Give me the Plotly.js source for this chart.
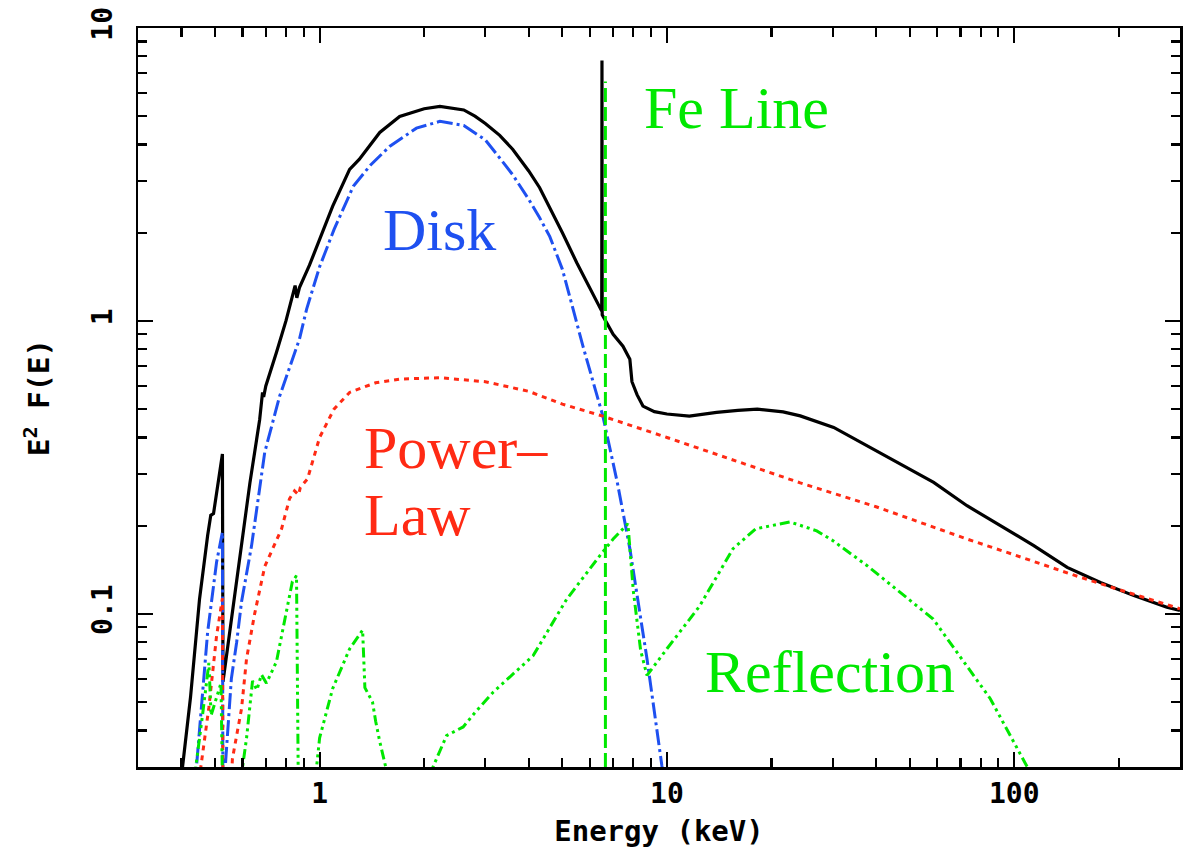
<!DOCTYPE html>
<html><head><meta charset="utf-8">
<script src="https://cdn.plot.ly/plotly-3.0.1.min.js"></script>
<style>html,body{margin:0;padding:0;background:#fff}#chart{width:1191px;height:850px}</style>
</head><body><div id="chart"></div>
<script>
// ---- data (energy in keV, E^2 F(E)) ----
const totalE = [0.395,0.403,0.425,0.451,0.476,0.486,0.495,0.508,0.525,0.527,0.55,0.569,0.596,0.63,0.672,0.685,0.69,0.70,0.751,0.80,0.84,0.85,0.86,0.875,0.935,1.0,1.09,1.22,1.30,1.49,1.70,2.0,2.22,2.6,2.8,3.0,3.3,3.6,4.0,4.3,4.6,5.0,5.5,6.0,6.49,6.50,6.51,7.0,7.47,7.82,7.93,8.2,8.53,9.2,10,11.6,13.9,16,18.2,21.6,24.2,30.2,37.6,46.9,58.6,73.1,91.2,113.8,142,177,221,275,300];
const totalF = [0.025,0.030,0.052,0.112,0.185,0.217,0.220,0.273,0.351,0.0586,0.085,0.113,0.175,0.28,0.46,0.57,0.55,0.60,0.78,1.0,1.25,1.32,1.20,1.30,1.55,1.90,2.46,3.29,3.56,4.40,4.99,5.30,5.40,5.25,5.0,4.72,4.30,3.85,3.25,2.85,2.44,2.0,1.58,1.30,1.08,7.74,1.05,0.90,0.82,0.74,0.62,0.56,0.512,0.49,0.481,0.473,0.487,0.495,0.50,0.489,0.474,0.433,0.375,0.3246,0.281,0.234,0.200,0.171,0.144,0.128,0.1154,0.1054,0.1026];

const diskE = [0.435,0.442,0.476,0.505,0.525,0.527,0.535,0.557,0.577,0.596,0.637,0.695,0.767,0.875,0.918,1.0,1.1,1.25,1.4,1.59,1.9,2.22,2.6,3.0,3.3,3.6,4.0,4.3,4.6,5.0,5.25,5.73,6.54,7.2,7.82,8.76,9.67,10];
const diskF = [0.025,0.030,0.0867,0.150,0.190,0.015,0.030,0.060,0.080,0.110,0.171,0.356,0.553,0.867,1.10,1.53,2.05,2.88,3.40,3.94,4.55,4.80,4.65,4.15,3.60,3.15,2.60,2.25,1.94,1.50,1.21,0.82,0.473,0.28,0.167,0.0702,0.0303,0.024];

const powE = [0.45,0.455,0.48,0.505,0.525,0.527,0.555,0.561,0.596,0.616,0.650,0.695,0.777,0.819,0.847,0.87,0.88,0.923,1.0,1.1,1.22,1.45,1.70,2.22,3.0,4.0,5.0,6.54,10,15,24.2,40,73.2,100,150,200,300];
const powF = [0.025,0.030,0.048,0.084,0.113,0.02,0.025,0.032,0.0475,0.0702,0.100,0.145,0.195,0.247,0.263,0.255,0.27,0.289,0.40,0.50,0.57,0.615,0.633,0.64,0.62,0.575,0.52,0.473,0.40,0.34,0.28,0.232,0.180,0.159,0.135,0.121,0.104];

const reflE = [0.435,0.44,0.46,0.48,0.487,0.50,0.52,0.527,0.59,0.60,0.616,0.641,0.66,0.68,0.703,0.751,0.782,0.835,0.858,0.87,0.96,0.98,1.0,1.09,1.22,1.33,1.35,1.42,1.45,1.49,1.55,1.58,2.08,2.12,2.32,2.59,2.8,3.16,4.12,5.14,6.41,7.0,7.72,8.0,8.4,8.76,10,12.4,15.5,18,22.6,27,30,37.7,58.4,85.3,109,115];
const reflF = [0.02,0.030,0.045,0.068,0.045,0.050,0.058,0.02,0.02,0.030,0.0376,0.059,0.055,0.062,0.058,0.0686,0.087,0.129,0.135,0.02,0.02,0.030,0.0377,0.0555,0.0759,0.088,0.056,0.050,0.043,0.0366,0.030,0.02,0.02,0.030,0.0384,0.0411,0.046,0.054,0.072,0.112,0.158,0.18,0.203,0.12,0.075,0.0616,0.076,0.106,0.167,0.195,0.206,0.192,0.178,0.146,0.096,0.0513,0.030,0.02];

const feE = [6.65,6.65];
const feF = [0.005,6.57];

const xTickVals = [1,10,100];
const xTickText = ['1','10','100'];
const yTickVals = [0.1,1,10];
const yTickText = ['0.1','1','10'];

// minor tick positions (2..9 in each decade)
function minorTicks(lo, hi){
  const out=[];
  for(let k=-3;k<=3;k++){for(let d=2;d<=9;d++){const v=d*Math.pow(10,k); if(v>lo*1.0001 && v<hi*0.9999) out.push(v);}}
  return out;
}

const GREEN='#00e800', RED='#ff2a14', BLUE='#1e50f0';
const traces = [
  {x:totalE,y:totalF,mode:'lines',line:{color:'#000',width:3.2},type:'scatter'},
  {x:diskE,y:diskF,mode:'lines',line:{color:BLUE,width:3,dash:'16px,4px,3px,4px'},type:'scatter'},
  {x:powE,y:powF,mode:'lines',line:{color:RED,width:3,dash:'5px,5px'},type:'scatter'},
  {x:reflE,y:reflF,mode:'lines',line:{color:GREEN,width:3,dash:'10px,4px,3px,4px,3px,4px,3px,4px'},type:'scatter'},
  {x:feE,y:feF,mode:'lines',line:{color:GREEN,width:3,dash:'14px,5px'},type:'scatter'}
];

const tickFont={family:'DejaVu Sans Mono',size:28,color:'#000',weight:700};
const axCommon={type:'log',showline:true,linewidth:2.5,linecolor:'#000',mirror:'ticks',ticks:'inside',
  ticklen:15,tickwidth:2.2,tickcolor:'#000',showgrid:false,zeroline:false,tickmode:'array',tickfont:tickFont};
const xMinor = minorTicks(0.3,300), yMinor = minorTicks(0.03,10);

const annFont = s=>({family:'Liberation Serif',size:60,color:s});
const px = v=>(v-138)/1042, py = v=>(767-v)/739;
const layout = {
  width:1191,height:850,margin:{l:138,r:11,t:28,b:83},
  paper_bgcolor:'#fff',plot_bgcolor:'#fff',showlegend:false,hovermode:false,
  xaxis:Object.assign({},axCommon,{range:[Math.log10(0.3),Math.log10(300)],tickvals:xTickVals,ticktext:xTickText,
    minor:{tickmode:'array',tickvals:xMinor,ticks:'inside',ticklen:9,tickwidth:2.2,tickcolor:'#000',showgrid:false},
    title:{text:'Energy (keV)',font:{family:'DejaVu Sans Mono',size:29,color:'#000',weight:700},standoff:12}}),
  yaxis:Object.assign({},axCommon,{range:[Math.log10(0.03),1],tickvals:yTickVals,ticktext:yTickText,tickangle:-90,
    ticklabelstandoff:12,
    minor:{tickmode:'array',tickvals:yMinor,ticks:'inside',ticklen:9,tickwidth:2.2,tickcolor:'#000',showgrid:false},
    title:{text:'E<sup>2</sup> F(E)',font:{family:'DejaVu Sans Mono',size:29,color:'#000',weight:700},standoff:28}}),
  annotations:[
    {xref:'paper',yref:'paper',x:px(642),y:py(108),xanchor:'left',yanchor:'middle',text:'Fe Line',showarrow:false,font:annFont(GREEN)},
    {xref:'paper',yref:'paper',x:px(381),y:py(230),xanchor:'left',yanchor:'middle',text:'Disk',showarrow:false,font:annFont(BLUE)},
    {xref:'paper',yref:'paper',x:px(362),y:py(448),xanchor:'left',yanchor:'middle',text:'Power–',showarrow:false,font:annFont(RED)},
    {xref:'paper',yref:'paper',x:px(362),y:py(515),xanchor:'left',yanchor:'middle',text:'Law',showarrow:false,font:annFont(RED)},
    {xref:'paper',yref:'paper',x:px(703),y:py(672),xanchor:'left',yanchor:'middle',text:'Reflection',showarrow:false,font:annFont(GREEN)}
  ]
};
Plotly.newPlot('chart',traces,layout,{staticPlot:true,displayModeBar:false});
</script>
</body></html>
